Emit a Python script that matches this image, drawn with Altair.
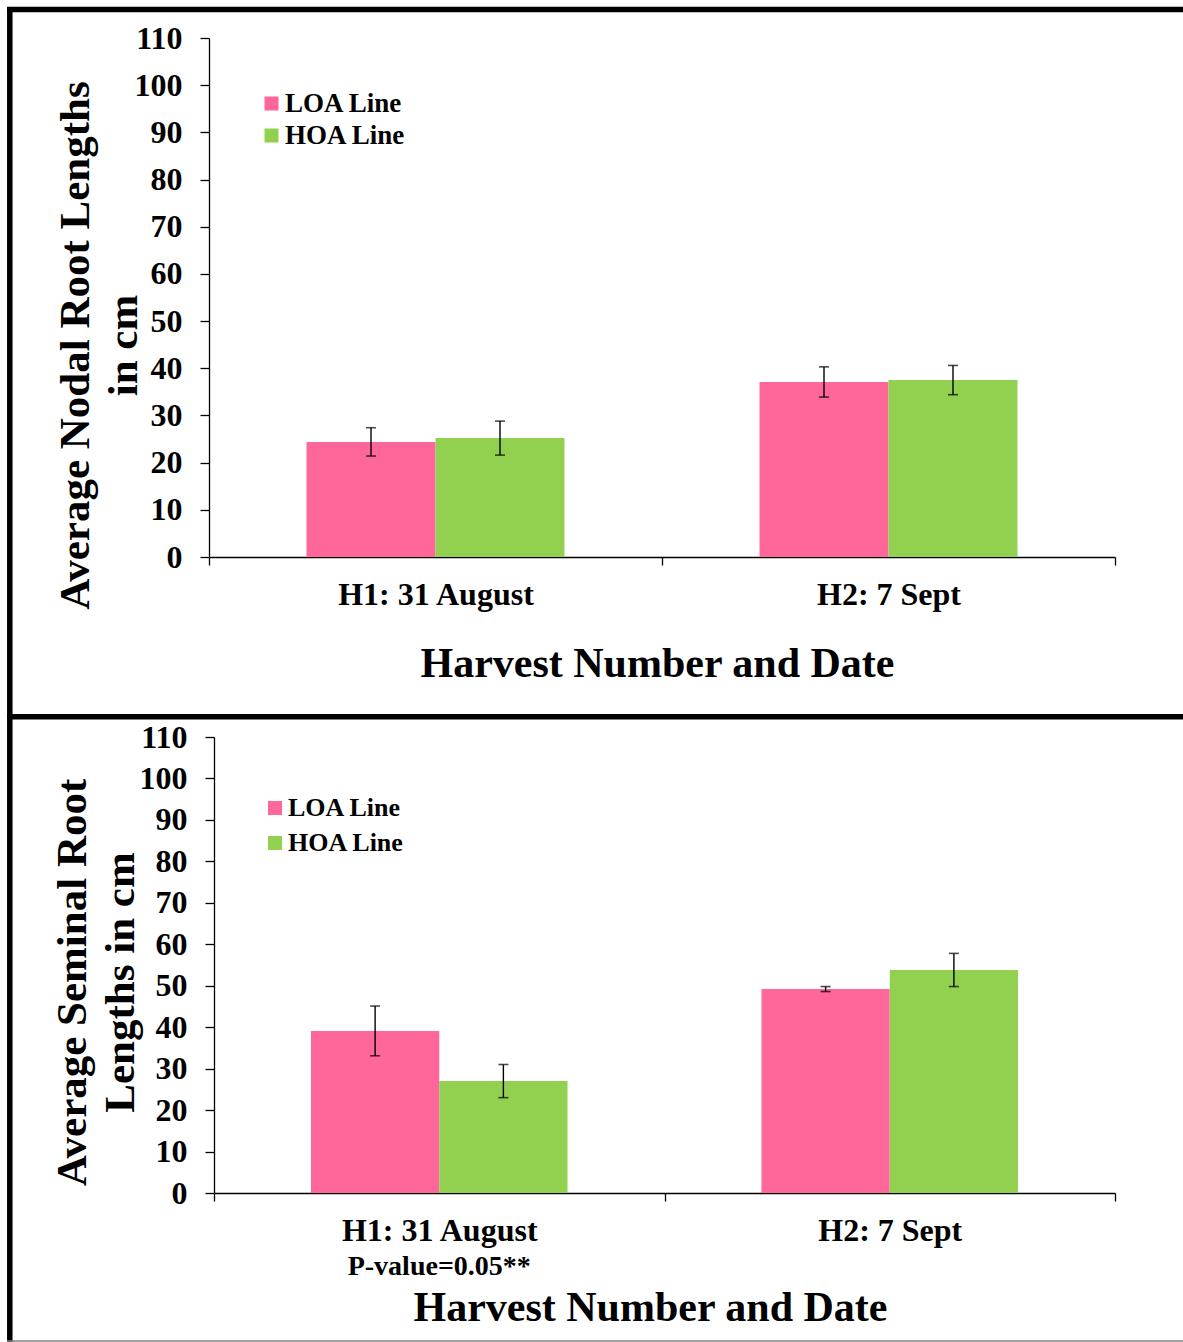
import altair as alt
import pandas as pd

# ---------------- data ----------------
categories = ["H1: 31 August", "H2: 7 Sept"]
series_names = ["LOA Line", "HOA Line"]
series_colors = ["#FF6699", "#92D050"]
y_ticks = [0, 10, 20, 30, 40, 50, 60, 70, 80, 90, 100, 110]

nodal_loa = [24.4, 37.1]
nodal_loa_err = [3.0, 3.2]
nodal_hoa = [25.2, 37.5]
nodal_hoa_err = [3.6, 3.1]

seminal_loa = [39.1, 49.2]
seminal_loa_err = [6.0, 0.6]
seminal_hoa = [27.0, 53.8]
seminal_hoa_err = [4.0, 4.0]

pvalue_cat = ["H1: 31 August"]
pvalue_text = ["P-value=0.05**"]

FONT = "Liberation Serif"


def make_df(loa, loa_err, hoa, hoa_err):
    rows = []
    for i, c in enumerate(categories):
        rows.append({"cat": c, "series": "LOA Line", "value": loa[i],
                     "lo": loa[i] - loa_err[i], "hi": loa[i] + loa_err[i]})
        rows.append({"cat": c, "series": "HOA Line", "value": hoa[i],
                     "lo": hoa[i] - hoa_err[i], "hi": hoa[i] + hoa_err[i]})
    return pd.DataFrame(rows)


def panel(df, x_range, y_range, x_offset, y_offset, y_title, ytx, yty, xtx, xty,
          leg_x, leg_y, leg_font, leg_pad, leg_off, extra=None):
    x_axis = alt.Axis(
        title="Harvest Number and Date", orient="bottom", offset=x_offset,
        tickBand="extent", labelAngle=0, labelFont=FONT, labelFontSize=32,
        labelFontWeight="bold", labelColor="black", labelPadding=14,
        labelLimit=600,
        tickSize=8, tickColor="black", tickWidth=1.3,
        domainColor="black", domainWidth=1.3, grid=False,
        titleFont=FONT, titleFontSize=42, titleFontWeight="bold",
        titleColor="black", titleX=xtx, titleY=xty,
        titleBaseline="alphabetic", titleAlign="center")
    y_axis = alt.Axis(
        title=y_title, orient="left", offset=y_offset, values=y_ticks,
        labelFont=FONT, labelFontSize=32, labelFontWeight="bold",
        labelColor="black", labelPadding=18, tickSize=9, tickColor="black",
        tickWidth=1.3, domainColor="black", domainWidth=1.3, grid=False,
        titleFont=FONT, titleFontSize=43, titleFontWeight="bold",
        titleColor="black", titleLineHeight=48, titleAngle=270,
        titleX=ytx, titleY=yty, titleAlign="center",
        titleBaseline="alphabetic", titleLimit=900)

    def xenc(axis):
        return alt.X("cat:N", scale=alt.Scale(domain=categories, range=x_range,
                                              paddingInner=0, paddingOuter=0),
                     axis=axis)

    def yenc(field, axis):
        return alt.Y(field, type="quantitative",
                     scale=alt.Scale(domain=[0, 110], range=y_range, nice=False),
                     axis=axis)

    xo = alt.XOffset("series:N", scale=alt.Scale(domain=series_names,
                                                 paddingInner=0, paddingOuter=0.756))

    base = alt.Chart(df)
    bars = base.mark_bar().encode(
        x=xenc(x_axis), xOffset=xo, y=yenc("value", y_axis),
        color=alt.Color("series:N",
                        scale=alt.Scale(domain=series_names, range=series_colors),
                        legend=alt.Legend(orient="none", legendX=leg_x, legendY=leg_y,
                                          title=None, symbolType="square",
                                          symbolSize=196, symbolStrokeWidth=0,
                                          labelFont=FONT, labelFontSize=leg_font,
                                          labelFontWeight="bold", labelColor="black",
                                          labelOffset=leg_off, rowPadding=leg_pad,
                                          padding=0)))
    err = base.mark_rule(color="black", strokeWidth=1.4).encode(
        x=xenc(None), xOffset=xo, y=yenc("lo", None), y2="hi")
    cap_lo = base.mark_tick(color="black", size=10, thickness=1.6,
                            orient="horizontal").encode(
        x=xenc(None), xOffset=xo, y=yenc("lo", None))
    cap_hi = base.mark_tick(color="black", size=10, thickness=1.6,
                            orient="horizontal").encode(
        x=xenc(None), xOffset=xo, y=yenc("hi", None))
    layers = [bars, err, cap_lo, cap_hi]
    if extra is not None:
        layers.append(extra(xenc))
    return layers


top_df = make_df(nodal_loa, nodal_loa_err, nodal_hoa, nodal_hoa_err)
bot_df = make_df(seminal_loa, seminal_loa_err, seminal_hoa, seminal_hoa_err)

H = 1342
W = 1183

top_layers = panel(top_df, x_range=[209, 1115], y_range=[557, 38],
                   x_offset=557 - H, y_offset=-209,
                   y_title=["Average Nodal Root Lengths", "in cm"],
                   ytx=88 - 209, yty=345, xtx=657, xty=119,
                   leg_x=258, leg_y=90, leg_font=27, leg_pad=4, leg_off=0)


def pval_layer(xenc):
    pdf = pd.DataFrame({"cat": pvalue_cat, "label": pvalue_text})
    return alt.Chart(pdf).mark_text(font=FONT, fontSize=28, fontWeight="bold",
                                    color="black", baseline="middle").encode(
        x=xenc(None), y=alt.value(1267), text="label:N")


bottom_layers = panel(bot_df, x_range=[214, 1115], y_range=[1193, 737],
                      x_offset=1193 - H, y_offset=-214,
                      y_title=["Average Seminal Root", "Lengths in cm"],
                      ytx=85 - 214, yty=982, xtx=650, xty=127,
                      leg_x=262, leg_y=795, leg_font=26, leg_pad=9, leg_off=0,
                      extra=pval_layer)

bdf = pd.DataFrame({"k": [0]})
left_border = alt.Chart(bdf).mark_rule(color="black", strokeWidth=5.5).encode(
    x=alt.value(9.8), y=alt.value(7), y2=alt.value(H))
top_border = alt.Chart(bdf).mark_rule(color="black", strokeWidth=5.5).encode(
    x=alt.value(7), x2=alt.value(W), y=alt.value(9.5))
mid_border = alt.Chart(bdf).mark_rule(color="black", strokeWidth=5.5).encode(
    x=alt.value(7), x2=alt.value(W), y=alt.value(716.8))
bot_border = alt.Chart(bdf).mark_rule(color="#808080", strokeWidth=1.5).encode(
    x=alt.value(7), x2=alt.value(W), y=alt.value(1341))

chart = alt.layer(*top_layers, *bottom_layers,
                  left_border, top_border, mid_border, bot_border).resolve_scale(
    x="independent", y="independent", xOffset="independent", color="independent"
).properties(
    width=W, height=H, autosize=alt.AutoSizeParams(type="none"), padding=0,
    background="white"
).configure_view(strokeWidth=0)

chart.save("out.html", embed_options={"renderer": "svg", "actions": False})
